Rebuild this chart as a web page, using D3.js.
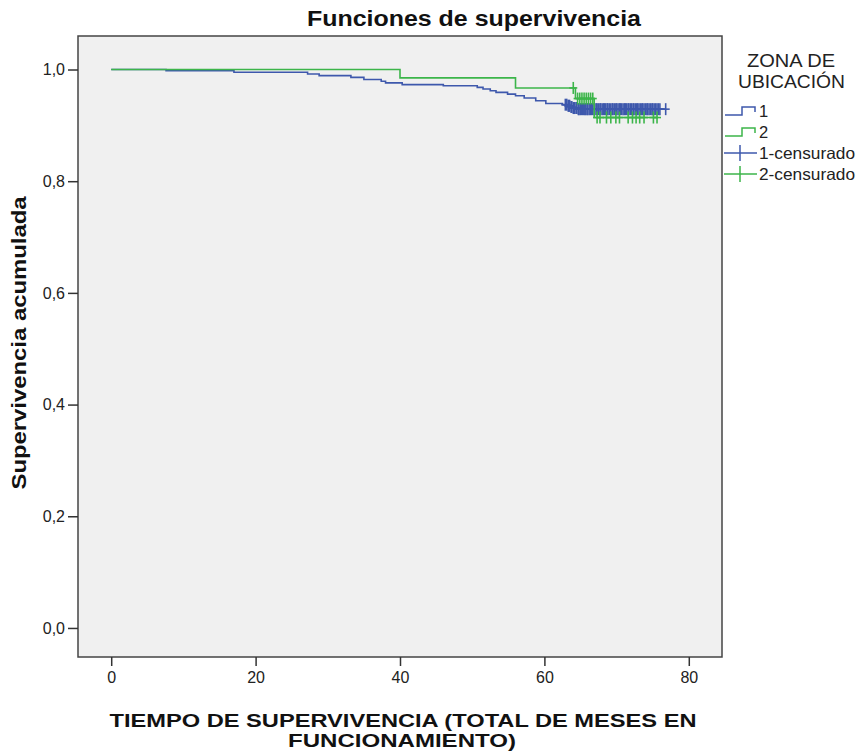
<!DOCTYPE html>
<html><head><meta charset="utf-8">
<script src="https://cdn.jsdelivr.net/npm/d3@7"></script>
<style>body{margin:0;background:#fff}text{font-family:"Liberation Sans",Arial,sans-serif}</style>
</head><body><svg id="c" width="858" height="752"></svg>
<script>
const xTicks = [0, 20, 40, 60, 80];
const yTicks = [0, 0.2, 0.4, 0.6, 0.8, 1.0];
const groups = ["1", "2"];
const colors = ["#3e58ac", "#3cb54a"];
// Group 1 step function
const g1Times = [0, 7.6, 17, 27.2, 28.8, 33.2, 35, 37.4, 38, 40.3, 46, 50.7, 51.5, 52.5, 53.3, 54.9, 56, 57.2, 58.8, 60.2, 62.5, 63.2, 63.6, 64.0, 64.6, 76.8];
const g1Surv  = [1.0, 0.998, 0.995, 0.992, 0.989, 0.986, 0.982, 0.979, 0.976, 0.973, 0.971, 0.968, 0.965, 0.962, 0.959, 0.956, 0.953, 0.949, 0.944, 0.939, 0.937, 0.935, 0.933, 0.931, 0.929, 0.929];
const g1Cens  = [62.9, 63.1, 63.3, 63.4, 63.5, 63.7, 63.8, 64.0, 64.1, 64.2, 64.4, 64.5, 64.7, 64.8, 65.0, 65.1, 65.3, 65.4, 65.6, 65.7, 65.9, 66.0, 66.2, 66.4, 66.5, 66.7, 66.9, 67.0, 67.2, 67.3, 67.5, 67.7, 67.8, 68.0, 68.2, 68.3, 68.5, 68.7, 68.8, 69.0, 69.2, 69.4, 69.5, 69.7, 69.9, 70.0, 70.2, 70.4, 70.5, 70.7, 70.9, 71.1, 71.2, 71.4, 71.6, 71.7, 71.9, 72.1, 72.3, 72.4, 72.6, 72.8, 72.9, 73.1, 73.3, 73.5, 73.6, 73.8, 74.0, 74.2, 74.3, 74.5, 74.7, 74.9, 75.0, 75.2, 75.4, 75.6, 75.8, 76.0, 76.8];
// Group 2 step function
const g2Times = [0, 40, 56, 64.3, 66.9, 75.7];
const g2Surv  = [1.0, 0.985, 0.967, 0.948, 0.914, 0.914];
const g2CensHi = [64.0];
const g2CensMid = [64.6, 64.9, 65.2, 65.5, 65.8, 66.1, 66.4, 66.7];
const g2CensLo = [67.3, 67.7, 68.6, 69.2, 69.9, 70.4, 71.6, 72.2, 72.7, 73.2, 73.8, 75.1, 75.6];

const svg = d3.select("#c");
const L = 78, R = 722, T = 36, B = 657;
const x = d3.scaleLinear().domain([-4.6, 84.6]).range([L, R]);
const y = d3.scaleLinear().domain([-0.052, 1.06]).range([B, T]);

svg.append("rect").attr("x", L).attr("y", T).attr("width", R - L).attr("height", B - T)
  .attr("fill", "#f0f0f0").attr("stroke", "#444").attr("stroke-width", 1.5);

const xa = svg.append("g").attr("transform", `translate(0,${B})`)
  .call(d3.axisBottom(x).tickValues(xTicks).tickSize(9).tickPadding(6).tickFormat(d3.format("d")));
const ya = svg.append("g").attr("transform", `translate(${L},0)`)
  .call(d3.axisLeft(y).tickValues(yTicks).tickSize(10).tickPadding(3).tickFormat(d => d.toFixed(1).replace(".", ",")));
[xa, ya].forEach(a => {
  a.select(".domain").remove();
  a.selectAll("line").attr("stroke", "#333").attr("stroke-width", 1.5);
  a.selectAll("text").attr("fill", "#222").attr("font-size", 16);
});

function steps(ts, ss) {
  const pts = ts.map((t, i) => [t, ss[i]]);
  return d3.line().x(d => x(d[0])).y(d => y(d[1])).curve(d3.curveStepAfter)(pts);
}
function cens(ts, times, surv, col, fixed) {
  const f = t => { let v = surv[0]; times.forEach((tt, i) => { if (tt <= t) v = surv[i]; }); return v; };
  const g = svg.append("g").attr("stroke", col).attr("stroke-width", 1.6);
  ts.forEach(t => {
    const cx = x(t), cy = y(fixed !== undefined ? fixed : f(t));
    g.append("line").attr("x1", cx).attr("x2", cx).attr("y1", cy - 6).attr("y2", cy + 6);
    g.append("line").attr("x1", cx - 4).attr("x2", cx + 4).attr("y1", cy).attr("y2", cy);
  });
}
svg.append("path").attr("d", steps(g1Times, g1Surv)).attr("fill", "none").attr("stroke", colors[0]).attr("stroke-width", 1.6);
cens(g1Cens, g1Times, g1Surv, colors[0]);
svg.append("path").attr("d", steps(g2Times, g2Surv)).attr("fill", "none").attr("stroke", colors[1]).attr("stroke-width", 1.6);
cens(g2CensHi, g2Times, g2Surv, colors[1], 0.967);
cens(g2CensMid, g2Times, g2Surv, colors[1], 0.948);
cens(g2CensLo, g2Times, g2Surv, colors[1], 0.914);

function txt(s, xx, yy, size, bold, len, anchor) {
  const t = svg.append("text").attr("x", xx).attr("y", yy).attr("text-anchor", anchor || "middle")
    .attr("font-size", size).attr("font-weight", bold ? "bold" : "normal").attr("fill", bold ? "#111" : "#222").text(s);
  if (len) t.attr("textLength", len).attr("lengthAdjust", "spacingAndGlyphs");
  return t;
}
txt("Funciones de supervivencia", 474, 26, 22, true, 334);
txt("TIEMPO DE SUPERVIVENCIA (TOTAL DE MESES EN", 403, 727, 19, true, 587);
txt("FUNCIONAMIENTO)", 402, 747, 19, true, 228);
svg.append("text").attr("transform", "translate(26,343) rotate(-90)").attr("text-anchor", "middle")
  .attr("font-size", 21).attr("font-weight", "bold").attr("fill", "#111")
  .attr("textLength", 293).attr("lengthAdjust", "spacingAndGlyphs").text("Supervivencia acumulada");

// Legend
txt("ZONA DE", 791, 67, 19, false, 88);
txt("UBICACIÓN", 791.5, 88, 19, false, 107);
const leg = [
  {label: groups[0], col: colors[0], type: "step", yy: 111},
  {label: groups[1], col: colors[1], type: "step", yy: 132},
  {label: groups[0] + "-censurado", col: colors[0], type: "cross", yy: 153},
  {label: groups[1] + "-censurado", col: colors[1], type: "cross", yy: 174}
];
leg.forEach(d => {
  if (d.type === "step") {
    svg.append("path").attr("d", `M725,${d.yy + 4}H742V${d.yy - 4}H755V${d.yy + 1}`)
      .attr("fill", "none").attr("stroke", d.col).attr("stroke-width", 1.5);
    txt(d.label, 759, d.yy + 6, 16.5, false, null, "start");
  } else {
    svg.append("line").attr("x1", 724).attr("x2", 757).attr("y1", d.yy).attr("y2", d.yy).attr("stroke", d.col).attr("stroke-width", 1.5);
    svg.append("line").attr("x1", 740).attr("x2", 740).attr("y1", d.yy - 8).attr("y2", d.yy + 8).attr("stroke", d.col).attr("stroke-width", 1.5);
    txt(d.label, 759, d.yy + 6, 16.5, false, 96, "start");
  }
});
</script></body></html>
